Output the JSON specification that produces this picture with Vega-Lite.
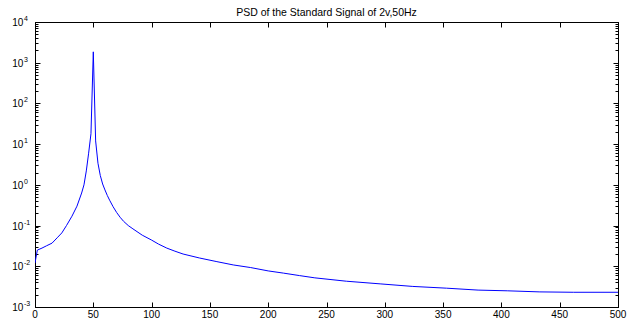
{
  "$schema": "https://vega.github.io/schema/vega-lite/v6.json",
  "width": 583,
  "height": 285,
  "autosize": "none",
  "padding": {"left": 35, "top": 22, "right": 17, "bottom": 15},
  "background": "white",
  "title": {"text": "PSD of the Standard Signal of 2v,50Hz", "fontSize": 10.5, "font": "Liberation Sans", "fontWeight": "normal", "color": "black", "offset": 1, "dy": 4},
  "config": {
    "view": {"stroke": "black", "strokeWidth": 1},
    "axis": {"domainColor": "black", "tickColor": "black", "labelColor": "black", "labelFont": "Liberation Sans", "labelFontSize": 10, "grid": false, "title": null, "domainWidth": 1, "tickWidth": 1}
  },
  "datasets": {
    "psd": [
      {"f": 0, "psd": 0.012},
      {"f": 2, "psd": 0.025},
      {"f": 6, "psd": 0.028},
      {"f": 10, "psd": 0.032},
      {"f": 14.6, "psd": 0.037},
      {"f": 19, "psd": 0.05},
      {"f": 23, "psd": 0.066},
      {"f": 27, "psd": 0.1},
      {"f": 31.7, "psd": 0.17},
      {"f": 36, "psd": 0.3},
      {"f": 40, "psd": 0.63},
      {"f": 42, "psd": 1.0},
      {"f": 44, "psd": 2.2},
      {"f": 46, "psd": 6},
      {"f": 48, "psd": 18},
      {"f": 50, "psd": 1850},
      {"f": 52, "psd": 12},
      {"f": 54, "psd": 3.4},
      {"f": 56, "psd": 1.7},
      {"f": 58, "psd": 1.05},
      {"f": 60, "psd": 0.75},
      {"f": 62, "psd": 0.55},
      {"f": 64, "psd": 0.42},
      {"f": 67, "psd": 0.29},
      {"f": 70, "psd": 0.21},
      {"f": 73, "psd": 0.16},
      {"f": 76, "psd": 0.127},
      {"f": 80, "psd": 0.1},
      {"f": 84, "psd": 0.083},
      {"f": 92, "psd": 0.058},
      {"f": 100, "psd": 0.044},
      {"f": 106, "psd": 0.035},
      {"f": 113, "psd": 0.028},
      {"f": 120, "psd": 0.0235},
      {"f": 127, "psd": 0.02},
      {"f": 141, "psd": 0.016},
      {"f": 156, "psd": 0.013},
      {"f": 170, "psd": 0.0108},
      {"f": 185, "psd": 0.0093},
      {"f": 200, "psd": 0.0077},
      {"f": 213, "psd": 0.0068},
      {"f": 227, "psd": 0.0059},
      {"f": 240, "psd": 0.0052},
      {"f": 267, "psd": 0.0043},
      {"f": 296, "psd": 0.0037},
      {"f": 324, "psd": 0.0032},
      {"f": 353, "psd": 0.0029},
      {"f": 380, "psd": 0.0026},
      {"f": 405, "psd": 0.0025},
      {"f": 433, "psd": 0.00235},
      {"f": 462, "psd": 0.0023},
      {"f": 500, "psd": 0.0023}
    ],
    "ylab": [
      {"v": 10000, "b": "10", "e": "4"},
      {"v": 1000, "b": "10", "e": "3"},
      {"v": 100, "b": "10", "e": "2"},
      {"v": 10, "b": "10", "e": "1"},
      {"v": 1, "b": "10", "e": "0"},
      {"v": 0.1, "b": "10", "e": "-1"},
      {"v": 0.01, "b": "10", "e": "-2"},
      {"v": 0.001, "b": "10", "e": "-3"}
    ],
    "xlab": [
      {"t": 0, "lab": "0"},
      {"t": 50, "lab": "50"},
      {"t": 100, "lab": "100"},
      {"t": 150, "lab": "150"},
      {"t": 200, "lab": "200"},
      {"t": 250, "lab": "250"},
      {"t": 300, "lab": "300"},
      {"t": 350, "lab": "350"},
      {"t": 400, "lab": "400"},
      {"t": 450, "lab": "450"},
      {"t": 500, "lab": "500"}
    ]
  },
  "layer": [
    {
      "data": {"name": "psd"},
      "mark": {"type": "line", "color": "#0000ff", "strokeWidth": 1, "clip": true},
      "encoding": {
        "x": {"field": "f", "type": "quantitative", "scale": {"domain": [0, 500], "nice": false, "zero": false},
          "axis": {"orient": "bottom", "values": [0, 50, 100, 150, 200, 250, 300, 350, 400, 450, 500], "tickSize": -5, "labels": false}},
        "y": {"field": "psd", "type": "quantitative", "scale": {"type": "log", "domain": [0.001, 10000], "nice": false},
          "axis": {"orient": "left", "values": [0.001,0.002,0.003,0.004,0.005,0.006,0.007,0.008,0.009,0.01,0.02,0.03,0.04,0.05,0.06,0.07,0.08,0.09,0.1,0.2,0.3,0.4,0.5,0.6,0.7,0.8,0.9,1,2,3,4,5,6,7,8,9,10,20,30,40,50,60,70,80,90,100,200,300,400,500,600,700,800,900,1000,2000,3000,4000,5000,6000,7000,8000,9000,10000],
            "tickSize": {"condition": {"test": "indexof([0.001,0.01,0.1,1,10,100,1000,10000], datum.value) >= 0", "value": -5}, "value": -3},
            "labels": false}}
      }
    },
    {
      "data": {"name": "psd"},
      "mark": {"type": "line", "opacity": 0},
      "encoding": {
        "x": {"field": "f", "type": "quantitative", "scale": {"domain": [0, 500], "nice": false, "zero": false},
          "axis": {"orient": "top", "values": [0, 50, 100, 150, 200, 250, 300, 350, 400, 450, 500], "tickSize": -5, "labels": false}},
        "y": {"field": "psd", "type": "quantitative", "scale": {"type": "log", "domain": [0.001, 10000], "nice": false},
          "axis": {"orient": "right", "values": [0.001,0.002,0.003,0.004,0.005,0.006,0.007,0.008,0.009,0.01,0.02,0.03,0.04,0.05,0.06,0.07,0.08,0.09,0.1,0.2,0.3,0.4,0.5,0.6,0.7,0.8,0.9,1,2,3,4,5,6,7,8,9,10,20,30,40,50,60,70,80,90,100,200,300,400,500,600,700,800,900,1000,2000,3000,4000,5000,6000,7000,8000,9000,10000],
            "tickSize": {"condition": {"test": "indexof([0.001,0.01,0.1,1,10,100,1000,10000], datum.value) >= 0", "value": -5}, "value": -3},
            "labels": false}}
      }
    },
    {
      "data": {"name": "ylab"},
      "mark": {"type": "text", "align": "right", "baseline": "middle", "dx": -11.7, "dy": 1, "fontSize": 10, "font": "Liberation Sans", "color": "black"},
      "encoding": {
        "x": {"datum": 0, "type": "quantitative", "scale": {"domain": [0, 500], "nice": false, "zero": false}, "axis": null},
        "y": {"field": "v", "type": "quantitative", "scale": {"type": "log", "domain": [0.001, 10000], "nice": false}, "axis": null},
        "text": {"field": "b"}
      }
    },
    {
      "data": {"name": "ylab"},
      "mark": {"type": "text", "align": "left", "baseline": "middle", "dx": -11, "dy": -3, "fontSize": 7, "font": "Liberation Sans", "color": "black"},
      "encoding": {
        "x": {"datum": 0, "type": "quantitative", "scale": {"domain": [0, 500], "nice": false, "zero": false}, "axis": null},
        "y": {"field": "v", "type": "quantitative", "scale": {"type": "log", "domain": [0.001, 10000], "nice": false}, "axis": null},
        "text": {"field": "e"}
      }
    },
    {
      "data": {"name": "xlab"},
      "mark": {"type": "text", "align": "center", "baseline": "middle", "dy": 8, "fontSize": 10, "font": "Liberation Sans", "color": "black"},
      "encoding": {
        "x": {"field": "t", "type": "quantitative", "scale": {"domain": [0, 500], "nice": false, "zero": false}, "axis": null},
        "y": {"datum": 0.001, "type": "quantitative", "scale": {"type": "log", "domain": [0.001, 10000], "nice": false}, "axis": null},
        "text": {"field": "lab"}
      }
    }
  ],
  "resolve": {"scale": {"x": "independent", "y": "independent"}, "axis": {"x": "independent", "y": "independent"}}
}
